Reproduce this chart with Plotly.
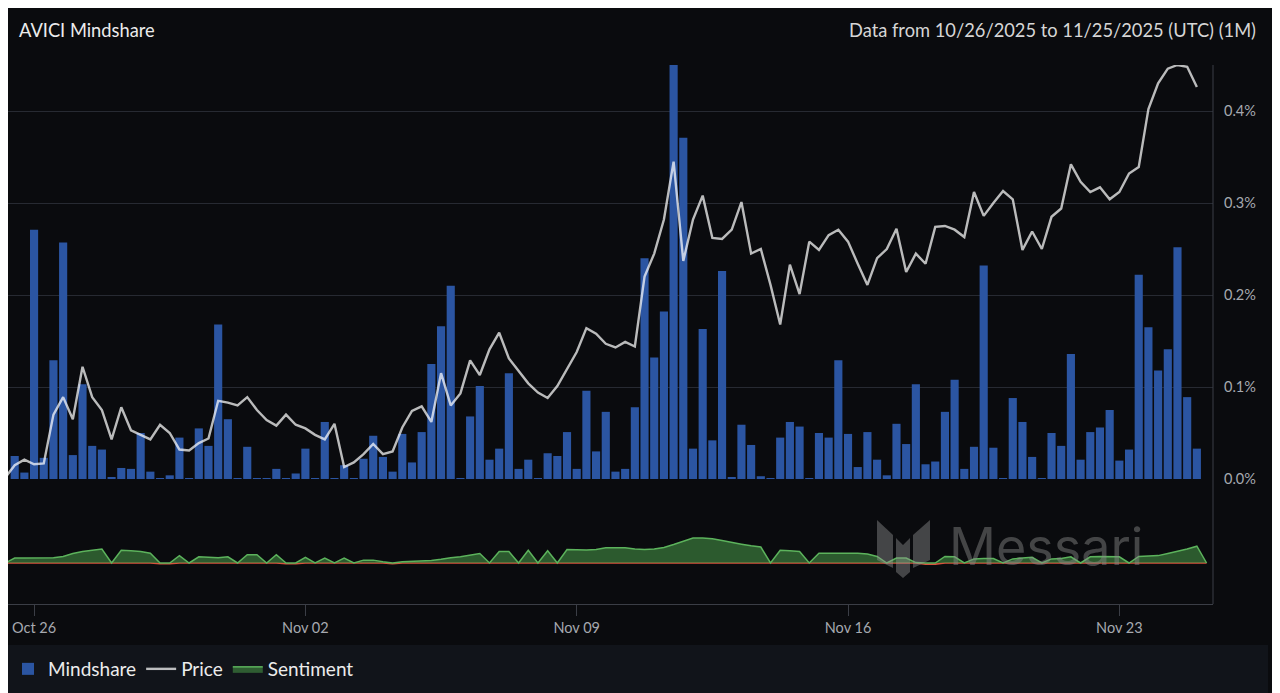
import pandas as pd
import plotly.graph_objects as go

# 6-hourly points, Oct 25 06:00 UTC -> Nov 25 00:00 UTC
dates = pd.date_range("2025-10-25 06:00", periods=124, freq="6h")
sent_dates = pd.date_range("2025-10-25 06:00", periods=125, freq="6h")

# mindshare in %
mindshare = [
    0.000, 0.025, 0.007, 0.271, 0.023, 0.129, 0.257, 0.026, 0.103, 0.036,
    0.032, 0.002, 0.012, 0.011, 0.050, 0.008, 0.001, 0.004, 0.045, 0.001,
    0.055, 0.036, 0.168, 0.065, 0.001, 0.035, 0.001, 0.001, 0.011, 0.001,
    0.006, 0.033, 0.001, 0.062, 0.001, 0.015, 0.001, 0.022, 0.047, 0.024,
    0.008, 0.049, 0.018, 0.051, 0.125, 0.166, 0.210, 0.001, 0.068, 0.101,
    0.021, 0.033, 0.115, 0.011, 0.021, 0.001, 0.028, 0.025, 0.051, 0.011,
    0.096, 0.030, 0.073, 0.008, 0.011, 0.078, 0.240, 0.132, 0.182, 0.450,
    0.371, 0.033, 0.163, 0.042, 0.226, 0.002, 0.059, 0.037, 0.003, 0.001,
    0.045, 0.062, 0.057, 0.001, 0.050, 0.045, 0.129, 0.049, 0.013, 0.051,
    0.021, 0.004, 0.060, 0.038, 0.103, 0.016, 0.019, 0.073, 0.108, 0.011,
    0.035, 0.232, 0.034, 0.001, 0.088, 0.062, 0.024, 0.001, 0.050, 0.036,
    0.136, 0.021, 0.051, 0.056, 0.075, 0.020, 0.032, 0.222, 0.165, 0.118,
    0.141, 0.252, 0.089, 0.033,
]

# price has no visible scale in the source, read relative to the chart height
price = [
    0.001, 0.015, 0.021, 0.016, 0.017, 0.070, 0.089, 0.065, 0.122, 0.089,
    0.075, 0.043, 0.078, 0.053, 0.048, 0.043, 0.059, 0.050, 0.032, 0.031,
    0.039, 0.044, 0.085, 0.083, 0.080, 0.089, 0.075, 0.064, 0.058, 0.070,
    0.059, 0.055, 0.048, 0.043, 0.060, 0.013, 0.018, 0.027, 0.038, 0.027,
    0.030, 0.056, 0.074, 0.079, 0.062, 0.115, 0.080, 0.093, 0.129, 0.113,
    0.141, 0.159, 0.131, 0.118, 0.104, 0.094, 0.088, 0.101, 0.120, 0.138,
    0.164, 0.158, 0.147, 0.143, 0.149, 0.144, 0.220, 0.245, 0.282, 0.345,
    0.237, 0.282, 0.308, 0.262, 0.261, 0.271, 0.301, 0.245, 0.250, 0.211,
    0.168, 0.233, 0.201, 0.258, 0.249, 0.265, 0.271, 0.258, 0.234, 0.211,
    0.240, 0.250, 0.272, 0.225, 0.245, 0.234, 0.274, 0.275, 0.271, 0.263,
    0.312, 0.286, 0.300, 0.313, 0.304, 0.249, 0.269, 0.250, 0.285, 0.294,
    0.342, 0.323, 0.312, 0.317, 0.304, 0.312, 0.332, 0.339, 0.402, 0.430,
    0.446, 0.450, 0.448, 0.426,
]

# sentiment score (-1..1)
sentiment = [
    0.00, 0.12, 0.12, 0.12, 0.12, 0.13, 0.16, 0.23, 0.28, 0.31,
    0.34, 0.00, 0.31, 0.30, 0.28, 0.24, -0.02, -0.02, 0.18, 0.00,
    0.15, 0.14, 0.13, 0.15, 0.00, 0.20, 0.20, 0.00, 0.20, -0.02,
    -0.02, 0.14, 0.00, 0.12, 0.00, 0.12, 0.00, 0.07, 0.07, 0.03,
    -0.02, 0.03, 0.04, 0.04, 0.06, 0.09, 0.13, 0.15, 0.19, 0.23,
    0.00, 0.28, 0.28, 0.00, 0.31, 0.00, 0.30, 0.00, 0.33, 0.32,
    0.32, 0.33, 0.37, 0.37, 0.37, 0.34, 0.33, 0.34, 0.38, 0.45,
    0.53, 0.61, 0.61, 0.59, 0.55, 0.50, 0.46, 0.42, 0.39, 0.00,
    0.31, 0.30, 0.28, 0.00, 0.24, 0.24, 0.24, 0.24, 0.24, 0.22,
    0.16, 0.00, 0.12, 0.12, 0.01, -0.03, -0.03, 0.16, 0.15, 0.00,
    0.10, 0.11, 0.11, 0.00, 0.10, 0.12, 0.14, 0.00, 0.10, 0.11,
    0.15, 0.00, 0.15, 0.16, 0.16, 0.15, 0.00, 0.16, 0.17, 0.18,
    0.23, 0.28, 0.34, 0.41, 0.00,
]

tick_dates = ["2025-10-26", "2025-11-02", "2025-11-09", "2025-11-16", "2025-11-23"]
tick_text = ["Oct 26", "Nov 02", "Nov 09", "Nov 16", "Nov 23"]
pct_ticks = [0, 0.1, 0.2, 0.3, 0.4]
pct_text = ["0.0%", "0.1%", "0.2%", "0.3%", "0.4%"]

BG = "#0a0b0e"
GRID = "#272a32"
AXIS = "#3b3e46"
TICK = "#a6a9b0"
FONT = "Lato"

sent_pos = [max(v, 0) for v in sentiment]
sent_neg = [min(v, 0) for v in sentiment]

fig = go.Figure()

fig.add_trace(go.Bar(
    x=dates, y=mindshare, name="Mindshare",
    marker=dict(color="#2b55a2", line=dict(width=0)),
    xaxis="x", yaxis="y",
))
fig.add_trace(go.Scatter(
    x=dates, y=price, name="Price", mode="lines",
    line=dict(color="rgba(255,255,255,0.72)", width=2.4),
    xaxis="x", yaxis="y2",
))
fig.add_trace(go.Scatter(
    x=sent_dates, y=sent_neg, name="Sentiment", mode="lines",
    fill="tozeroy", fillcolor="rgba(214,72,52,0.6)",
    line=dict(color="#d8523c", width=1.5),
    showlegend=False, legendgroup="sent",
    xaxis="x", yaxis="y3",
))
fig.add_trace(go.Scatter(
    x=sent_dates, y=sent_pos, name="Sentiment", mode="lines",
    fill="tozeroy", fillcolor="rgba(66,138,66,0.62)",
    line=dict(color="#5cb35c", width=1.5),
    legendgroup="sent",
    xaxis="x", yaxis="y3",
))

# page body keeps an 8px margin, so the figure is 8px smaller and
# every position below is given in window pixels and shifted back
OFF = 8
W, H = 1280 - OFF, 693 - OFF
ml, mr, mt, mb = 0, 67, 65 - OFF, 89
pw, ph = W - ml - mr, H - mt - mb


def px(xw):
    return (xw - OFF - ml) / pw


def py(yw):
    return (H - mb - (yw - OFF)) / ph


# Messari watermark logo, rough shape
logo = [
    [(877, 520), (893, 535), (893, 568), (877, 560)],
    [(896, 538), (903, 545), (910, 538), (910, 572), (903, 578), (896, 572)],
    [(913, 535), (930, 520), (930, 560), (913, 568)],
]
shapes = []
for poly in logo:
    path = "M " + " L ".join(f"{px(a):.5f},{py(b):.5f}" for a, b in poly) + " Z"
    shapes.append(dict(type="path", path=path, xref="paper", yref="paper",
                       fillcolor="rgba(150,150,150,0.42)", line=dict(width=0), layer="above"))

# right border of plot area
shapes.append(dict(type="line", xref="paper", yref="paper", x0=1, x1=1, y0=0, y1=1,
                   line=dict(color=AXIS, width=1)))
# legend band
shapes.append(dict(type="rect", xref="paper", yref="paper",
                   x0=px(0), x1=px(1268), y0=py(700), y1=py(645),
                   fillcolor="#11141a", line=dict(width=0), layer="below"))

# x pixel of bar i in the window is about 5 + 9.69 * i
t0 = dates[0]
x_left = t0 + pd.Timedelta(hours=6 * (OFF - 5) / 9.69)
x_right = t0 + pd.Timedelta(hours=6 * (1213 - 5) / 9.69)

fig.update_layout(
    width=W, height=H,
    margin=dict(l=ml, r=mr, t=mt, b=mb),
    paper_bgcolor=BG, plot_bgcolor=BG,
    font=dict(family=FONT, color="#e6e6e6"),
    bargap=0.16,
    showlegend=True,
    legend=dict(orientation="h", x=0, y=py(669), xanchor="left", yanchor="middle",
                font=dict(size=19, color="#ececec", family=FONT),
                bgcolor="rgba(0,0,0,0)", itemwidth=30, traceorder="normal"),
    xaxis=dict(
        type="date", anchor="y3",
        range=[x_left, x_right],
        tickvals=tick_dates, ticktext=tick_text,
        tickfont=dict(size=14.5, color=TICK),
        ticks="outside", ticklen=11, tickcolor=AXIS,
        showline=True, linecolor=AXIS, linewidth=1,
        showgrid=False, zeroline=False,
    ),
    yaxis=dict(
        domain=[py(479), 1], range=[0, 0.45], side="right",
        tickvals=pct_ticks, ticktext=pct_text,
        tickfont=dict(size=14.5, color=TICK),
        ticklabelstandoff=10,
        showgrid=True, gridcolor=GRID, gridwidth=1,
        zeroline=False, showline=False,
    ),
    yaxis2=dict(overlaying="y", range=[0, 0.45], visible=False),
    yaxis3=dict(domain=[0, py(522)], range=[-1, 1], visible=False),
    shapes=shapes,
    annotations=[
        dict(text="AVICI Mindshare", xref="paper", yref="paper",
             x=px(17), y=py(30), xanchor="left", yanchor="middle", showarrow=False,
             font=dict(size=18.3, color="#ececec", family=FONT)),
        dict(text="Data from 10/26/2025 to 11/25/2025 (UTC) (1M)", xref="paper", yref="paper",
             x=px(1258), y=py(30), xanchor="right", yanchor="middle", showarrow=False,
             font=dict(size=18.3, color="#d6d6d6", family=FONT)),
        dict(text="Messari", xref="paper", yref="paper",
             x=px(1046), y=py(546), xanchor="center", yanchor="middle", showarrow=False,
             font=dict(size=52, color="rgba(140,140,140,0.45)", family="Inter")),
    ],
)

fig.write_html("out.html")
